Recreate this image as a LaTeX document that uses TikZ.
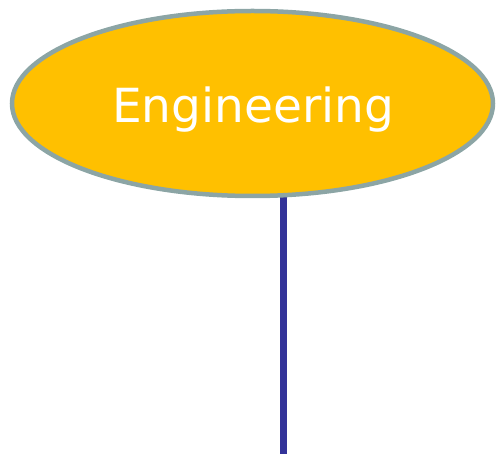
\documentclass[tikz,border=0pt]{standalone}
\usepackage{fontspec}
\newfontfamily\labelfont{DejaVu Sans}
\usetikzlibrary{shapes.geometric,backgrounds}
\definecolor{engfill}{HTML}{FFC000}
\definecolor{engedge}{HTML}{8CA5A5}
\definecolor{linkblue}{HTML}{333399}

\tikzset{
    topic/.style={
        ellipse,
        draw=engedge,
        fill=engfill,
        line width=4.5pt,
        outer sep=0pt,
        inner sep=0pt,
        minimum width=481pt,
        minimum height=185pt,
        text=white,
        font=\labelfont\fontsize{47}{50}\selectfont
    },
    link/.style={
        linkblue,
        line width=7.5pt
    }
}

\begin{document}
\begin{tikzpicture}[x=1pt, y=-1pt]

% ---------------- FRAME ----------------

\useasboundingbox (0,0) rectangle (499,454);


% ---------------- NODE ----------------

\node[topic] (eng) at (252.5,103.5) {};
\node[text=white, font=\labelfont\fontsize{47}{50}\selectfont, anchor=base]
    (title) at (253,123) {Engineering};


% ---------------- LINK ----------------

\coordinate (foot) at (283.5,454);

\begin{scope}[on background layer]
\draw[link] (foot |- eng.center) -- (foot);
\end{scope}

\end{tikzpicture}
\end{document}
